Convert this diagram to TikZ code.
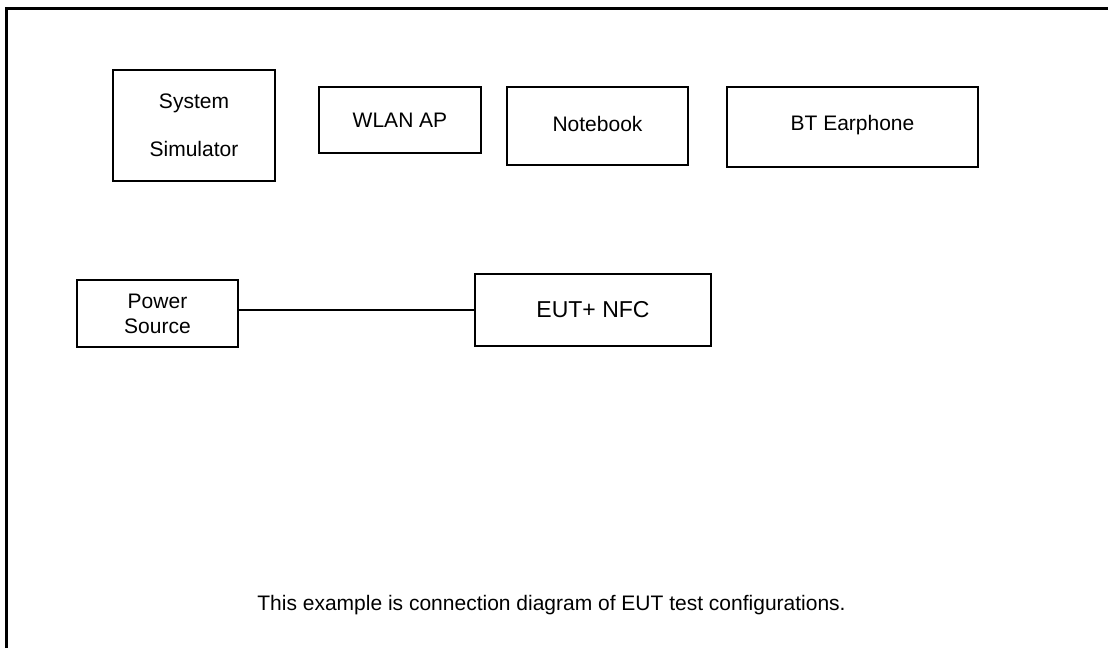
\documentclass[tikz,border=0pt]{standalone}
\usepackage{fontspec}
\setmainfont{Liberation Sans}
\usetikzlibrary{positioning}

\begin{document}
\begin{tikzpicture}[x=1pt, y=-1pt,
	unit/.style={draw, line width=1.2pt, inner sep=0pt, align=center, font=\fontsize{21}{25}\selectfont},
	note/.style={inner sep=0pt, font=\fontsize{21}{25}\selectfont}]
\useasboundingbox (0,0) rectangle (1108,648);
%frame
\draw[line width=2.6pt] (6.5,648) -- (6.5,8.7) -- (1108,8.7);
%top row
\node[unit, minimum width=162pt, minimum height=111pt, font=\fontsize{21}{48}\selectfont] (sim) at (194,125.5) {System\\Simulator};
\node[unit, minimum width=162pt, minimum height=66pt] (wlan) at (400,120) {WLAN AP};
\node[unit, minimum width=181pt, minimum height=78pt, text depth=5pt] (nb) at (597.5,126) {Notebook};
\node[unit, minimum width=251pt, minimum height=80pt, text depth=8pt] (bt) at (852.5,127) {BT Earphone};
%middle row
\node[unit, minimum width=161pt, minimum height=67pt] (ps) at (157.5,313.5) {Power\\Source};
\node[unit, minimum width=236pt, minimum height=72pt, font=\fontsize{23}{27}\selectfont] (eut) at (593,310) {EUT+ NFC};
\draw[line width=1.4pt] (eut.west -| ps.east) -- (eut.west);
%caption
\node[note, anchor=base] (cap) at (551.5,610) {This example is connection diagram of EUT test configurations.};
\end{tikzpicture}
\end{document}
